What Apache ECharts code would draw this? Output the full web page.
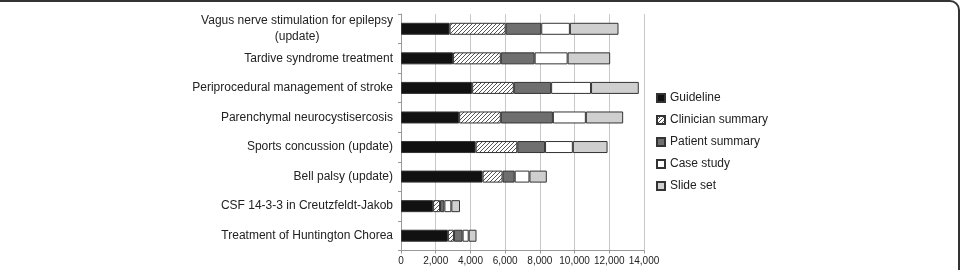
<!DOCTYPE html>
<html><head><meta charset="utf-8">
<script src="https://cdn.jsdelivr.net/npm/echarts@6/dist/echarts.min.js"></script>
<style>html,body{margin:0;padding:0;background:#fff}#c{width:965px;height:270px}</style>
</head><body><div id="c"></div>
<script>
const categories = [
  'Vagus nerve stimulation for epilepsy\n(update)',
  'Tardive syndrome treatment',
  'Periprocedural management of stroke',
  'Parenchymal neurocystisercosis',
  'Sports concussion (update)',
  'Bell palsy (update)',
  'CSF 14-3-3 in Creutzfeldt-Jakob',
  'Treatment of Huntington Chorea'
];
const seriesNames = ['Guideline', 'Clinician summary', 'Patient summary', 'Case study', 'Slide set'];
const guideline = [2800, 3000, 4100, 3350, 4300, 4700, 1850, 2700];
const clinician = [3230, 2750, 2400, 2400, 2400, 1150, 400, 350];
const patient   = [2050, 1950, 2150, 3000, 1600, 700, 250, 500];
const caseStudy = [1650, 1900, 2300, 1900, 1600, 850, 400, 350];
const slideSet  = [2800, 2450, 2750, 2150, 2000, 1000, 500, 450];
const xTicks = { min: 0, max: 14000, interval: 2000 };

function hatch() {
  const c = document.createElement('canvas');
  c.width = 4; c.height = 4;
  const g = c.getContext('2d');
  g.fillStyle = '#fff'; g.fillRect(0, 0, 4, 4);
  g.strokeStyle = '#555'; g.lineWidth = 1;
  g.beginPath();
  g.moveTo(0, 4); g.lineTo(4, 0);
  g.moveTo(-1, 1); g.lineTo(1, -1);
  g.moveTo(3, 5); g.lineTo(5, 3);
  g.stroke();
  return c;
}

const fills = ['#111111', { image: hatch(), repeat: 'repeat' }, '#6f6f6f', '#ffffff', '#cfcfcf'];
const values = [guideline, clinician, patient, caseStudy, slideSet];

const chart = echarts.init(document.getElementById('c'), null, { renderer: 'canvas' });
chart.setOption({
  animation: false,
  textStyle: { fontFamily: 'Liberation Sans, Arial, sans-serif' },
  grid: { left: 401, right: 321, top: 14, bottom: 19.5, containLabel: false },
  xAxis: {
    type: 'value', min: xTicks.min, max: xTicks.max, interval: xTicks.interval,
    axisLine: { show: true, lineStyle: { color: '#999' } },
    axisTick: { show: true, length: 3, lineStyle: { color: '#999' } },
    splitLine: { show: true, lineStyle: { color: '#c8c8c8', width: 1 } },
    axisLabel: { color: '#222', fontSize: 10, margin: 6,
      formatter: v => v.toLocaleString('en-US') }
  },
  yAxis: {
    type: 'category', data: categories, inverse: true,
    axisLine: { show: true, lineStyle: { color: '#999' } },
    axisTick: { show: true, length: 3, lineStyle: { color: '#999' } },
    axisLabel: {
      color: '#222', fontSize: 12, margin: 8,
      formatter: function (v) {
        const parts = v.split('\n');
        if (parts.length > 1) return '{a|' + parts[0] + '}\n{b|' + parts[1] + '}';
        return v;
      },
      rich: {
        a: { fontSize: 12, color: '#222', lineHeight: 16 },
        b: { fontSize: 12, color: '#222', lineHeight: 16, align: 'center' }
      }
    }
  },
  legend: {
    orient: 'vertical', left: 651, top: 87,
    itemWidth: 8, itemHeight: 8, itemGap: 10,
    icon: 'rect',
    textStyle: { fontSize: 12, color: '#222' },
    data: seriesNames
  },
  series: seriesNames.map((n, i) => ({
    name: n, type: 'bar', stack: 'total', barWidth: 12,
    data: values[i],
    itemStyle: { color: fills[i], borderColor: '#333', borderWidth: 1 }
  })),
  graphic: [{
    type: 'rect', silent: true,
    shape: { x: -20, y: 1, width: 979, height: 320, r: 9 },
    style: { fill: 'none', stroke: '#333', lineWidth: 2 }
  }]
});
</script></body></html>
